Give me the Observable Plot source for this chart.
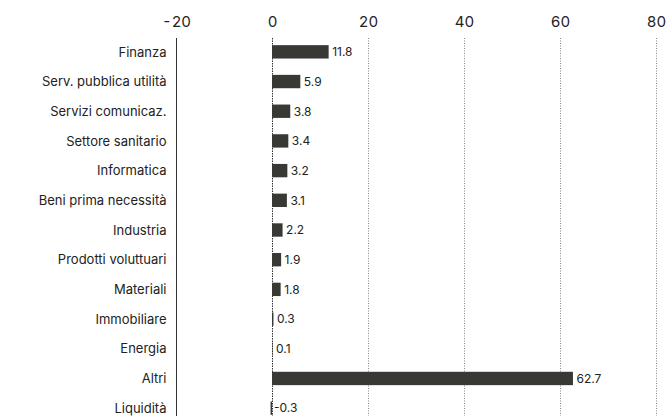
<!DOCTYPE html>
<html><head><meta charset="utf-8">
<script src="https://cdn.jsdelivr.net/npm/d3@7"></script>
<script src="https://cdn.jsdelivr.net/npm/@observablehq/plot@0.6"></script>
<style>body{margin:0;background:#fff;font-family:Inter,sans-serif}</style>
</head><body><div id="chart"></div>
<script>
const sectors = ["Finanza","Serv. pubblica utilità","Servizi comunicaz.","Settore sanitario","Informatica","Beni prima necessità","Industria","Prodotti voluttuari","Materiali","Immobiliare","Energia","Altri","Liquidità"];
const values = [11.8,5.9,3.8,3.4,3.2,3.1,2.2,1.9,1.8,0.3,0.1,62.7,-0.3];
const ticks = [-20,0,20,40,60,80];
const data = sectors.map((s,i) => ({sector: s, value: values[i]}));

const chart = Plot.plot({
  width: 667,
  height: 416,
  marginLeft: 176,
  marginRight: 11,
  marginTop: 38,
  marginBottom: 0,
  style: {fontFamily: "Inter, sans-serif", fontSize: "13px", color: "#222"},
  x: {domain: [-20, 80], ticks: ticks, tickFormat: d => String(d), axis: "top", label: null, tickSize: 0, tickPadding: 12},
  y: {domain: sectors, range: [37, 423], round: false, paddingInner: 0.55, paddingOuter: 0.275, label: null, axis: null},
  marks: [
    Plot.ruleX([20,40,60,80], {stroke: "#888", strokeDasharray: "1,1.5"}),
    Plot.ruleX([0], {stroke: "#333", strokeDasharray: "1.5,1"}),
    Plot.ruleX([-20], {stroke: "#333"}),
    Plot.barX(data, {x: "value", y: "sector", fill: "#383835"}),
    Plot.text(data, {x: "value", y: "sector", text: d => String(d.value), textAnchor: "start", dx: 3, fontSize: 12, fill: "#222"}),
    Plot.text(data, {x: -20, y: "sector", text: "sector", textAnchor: "end", dx: -10, fontSize: 13, fill: "#222"})
  ]
});
chart.querySelectorAll("g[aria-label='x-axis tick label'] text").forEach(t => t.style.fontSize = "15px");
document.getElementById("chart").append(chart);
</script></body></html>
